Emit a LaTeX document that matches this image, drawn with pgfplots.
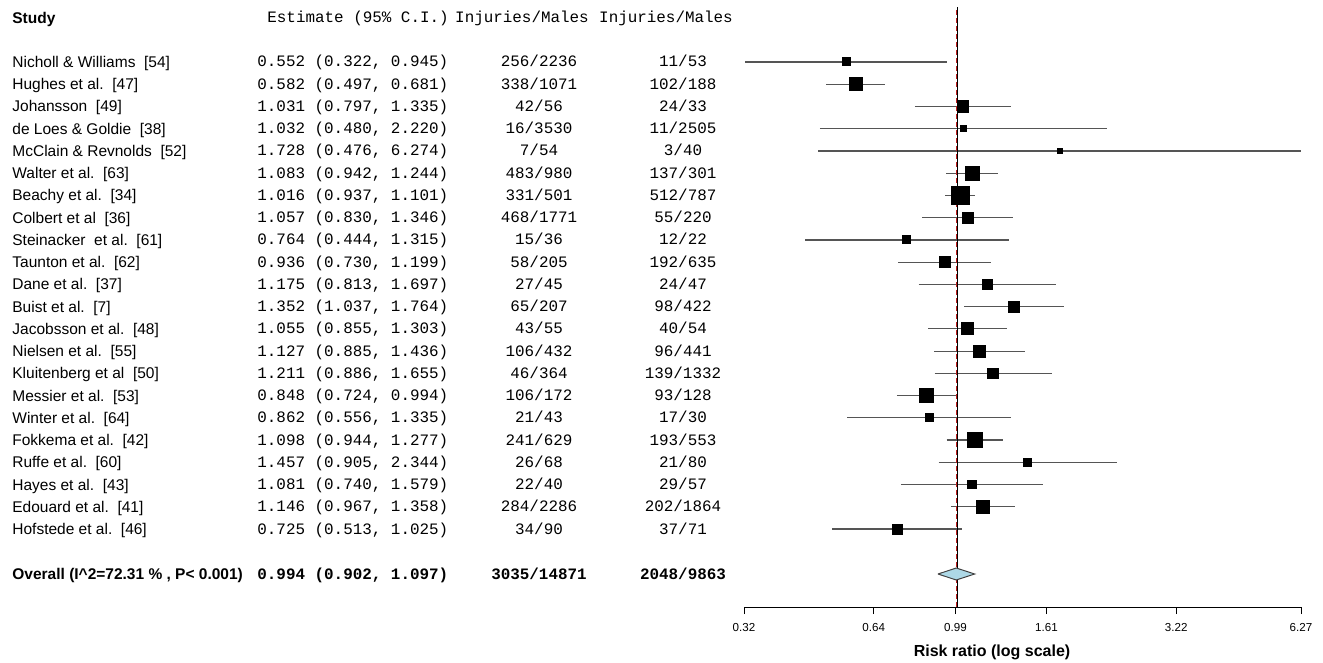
\documentclass[border=0pt]{standalone}
\usepackage{pgfplots}
\pgfplotsset{compat=1.18}
\usepackage{pgfplotstable}
\usepackage{fontspec}
\setmainfont{Liberation Sans}
\newfontfamily\mono{Liberation Mono}
\definecolor{diamondblue}{RGB}{173,216,230}
\definecolor{cigray}{RGB}{85,85,85}
\definecolor{refred}{RGB}{190,30,30}

% y = 607 - pixel row position
\pgfplotstableread{
y est h
545.00 0.552 2.00
522.76 0.582 3.25
500.52 1.031 2.82
478.28 1.032 1.50
456.04 1.728 1.32
433.80 1.083 3.50
411.56 1.016 4.50
389.32 1.057 2.67
367.08 0.764 2.00
344.84 0.936 2.82
322.60 1.175 2.32
300.36 1.352 2.82
278.12 1.055 3.00
255.88 1.127 3.00
233.64 1.211 2.67
211.40 0.848 3.50
189.16 0.862 2.00
166.92 1.098 3.67
144.68 1.457 2.00
122.44 1.081 2.17
100.20 1.146 3.17
77.96 0.725 2.50
}\studies

\pgfplotstableread{
lo hi y
0.322 0.945 545.00
0.497 0.681 522.76
0.797 1.335 500.52
0.480 2.220 478.28
0.476 6.274 456.04
0.942 1.244 433.80
0.937 1.101 411.56
0.830 1.346 389.32
0.444 1.315 367.08
0.730 1.199 344.84
0.813 1.697 322.60
1.037 1.764 300.36
0.855 1.303 278.12
0.885 1.436 255.88
0.886 1.655 233.64
0.724 0.994 211.40
0.556 1.335 189.16
0.944 1.277 166.92
0.905 2.344 144.68
0.740 1.579 122.44
0.967 1.358 100.20
0.513 1.025 77.96
}\cis

\newcommand{\namefont}{\fontsize{7.75}{9}\selectfont}
\newcommand{\monofont}{\mono\fontsize{7.95}{9}\selectfont}
\newcommand{\row}[5]{%
  \node[anchor=base west,inner sep=0,font=\namefont] at (12,{#1+5.5}) {#2};
  \node[anchor=base west,inner sep=0,font=\monofont] at (257,{#1+5}) {#3};
  \node[anchor=base,inner sep=0,font=\monofont] at (539,{#1+5}) {#4};
  \node[anchor=base,inner sep=0,font=\monofont] at (683,{#1+5}) {#5};
}

\begin{document}
\begin{tikzpicture}
\begin{scope}[x=0.5pt,y=-0.5pt]
\path (0,0) rectangle (1323,663);

% headers
\node[anchor=base west,inner sep=0,font=\namefont\bfseries] at (12,23.5) {Study};
\node[anchor=base west,inner sep=0,font=\monofont] at (267,23) {Estimate (95\% C.I.)};
\node[anchor=base,inner sep=0,font=\monofont] at (522,23) {Injuries/Males};
\node[anchor=base,inner sep=0,font=\monofont] at (666,23) {Injuries/Males};

\row{62.00}{Nicholl \& Williams~~[54]}{0.552 (0.322, 0.945)}{256/2236}{11/53}
\row{84.24}{Hughes et al.~~[47]}{0.582 (0.497, 0.681)}{338/1071}{102/188}
\row{106.48}{Johansson~~[49]}{1.031 (0.797, 1.335)}{42/56}{24/33}
\row{128.72}{de Loes \& Goldie~~[38]}{1.032 (0.480, 2.220)}{16/3530}{11/2505}
\row{150.96}{McClain \& Revnolds~~[52]}{1.728 (0.476, 6.274)}{7/54}{3/40}
\row{173.20}{Walter et al.~~[63]}{1.083 (0.942, 1.244)}{483/980}{137/301}
\row{195.44}{Beachy et al.~~[34]}{1.016 (0.937, 1.101)}{331/501}{512/787}
\row{217.68}{Colbert et al~~[36]}{1.057 (0.830, 1.346)}{468/1771}{55/220}
\row{239.92}{Steinacker~~et al.~~[61]}{0.764 (0.444, 1.315)}{15/36}{12/22}
\row{262.16}{Taunton et al.~~[62]}{0.936 (0.730, 1.199)}{58/205}{192/635}
\row{284.40}{Dane et al.~~[37]}{1.175 (0.813, 1.697)}{27/45}{24/47}
\row{306.64}{Buist et al.~~[7]}{1.352 (1.037, 1.764)}{65/207}{98/422}
\row{328.88}{Jacobsson et al.~~[48]}{1.055 (0.855, 1.303)}{43/55}{40/54}
\row{351.12}{Nielsen et al.~~[55]}{1.127 (0.885, 1.436)}{106/432}{96/441}
\row{373.36}{Kluitenberg et al~~[50]}{1.211 (0.886, 1.655)}{46/364}{139/1332}
\row{395.60}{Messier et al.~~[53]}{0.848 (0.724, 0.994)}{106/172}{93/128}
\row{417.84}{Winter et al.~~[64]}{0.862 (0.556, 1.335)}{21/43}{17/30}
\row{440.08}{Fokkema et al.~~[42]}{1.098 (0.944, 1.277)}{241/629}{193/553}
\row{462.32}{Ruffe et al.~~[60]}{1.457 (0.905, 2.344)}{26/68}{21/80}
\row{484.56}{Hayes et al.~~[43]}{1.081 (0.740, 1.579)}{22/40}{29/57}
\row{506.80}{Edouard et al.~~[41]}{1.146 (0.967, 1.358)}{284/2286}{202/1864}
\row{529.04}{Hofstede et al.~~[46]}{0.725 (0.513, 1.025)}{34/90}{37/71}

% overall
\node[anchor=base west,inner sep=0,font=\namefont\bfseries] at (12,579.5) {Overall (I\^{}2=72.31 \% , P< 0.001)};
\node[anchor=base west,inner sep=0,font=\monofont\bfseries] at (257,579) {0.994 (0.902, 1.097)};
\node[anchor=base,inner sep=0,font=\monofont\bfseries] at (539,579) {3035/14871};
\node[anchor=base,inner sep=0,font=\monofont\bfseries] at (683,579) {2048/9863};

\node[anchor=center,inner sep=0,font=\fontsize{8}{9}\selectfont\bfseries] at (992,652) {Risk ratio (log scale)};
\end{scope}

\begin{axis}[
  at={(372pt,-303.5pt)}, anchor=south west,
  scale only axis, width=278.5pt, height=303.5pt,
  xmode=log, xmin=0.32, xmax=6.27, ymin=0, ymax=607,
  axis x line*=bottom, axis y line=none,
  axis line style={-, line width=0.5pt, black},
  xtick={0.32,0.64,0.99,1.61,3.22,6.27},
  xticklabels={0.32,0.64,0.99,1.61,3.22,6.27},
  minor xtick={},
  tick align=outside, major tick length=3.5pt,
  x tick style={line width=0.5pt, black},
  xticklabel style={font=\fontsize{5.8}{7}\selectfont, inner sep=0pt, yshift=-4.5pt},
  clip=false,
]
\addplot[draw=none, no markers,
  error bars/.cd, x dir=both, x explicit, error mark=none,
  error bar style={draw=cigray, line width=0.6pt, solid}]
  table[x=lo, y=y, x error plus expr={\thisrow{hi}-\thisrow{lo}}, x error minus expr=0] {\cis};
\addplot[black, line width=0.5pt] coordinates {(1,0) (1,600)};
\addplot[refred, line width=0.7pt, dash pattern=on 2.5pt off 1.5pt] coordinates {(0.994,0) (0.994,600)};
\addplot[only marks, mark=square*, mark options={draw=black, fill=black, line width=0pt},
  visualization depends on={\thisrow{h} \as \perpointmarksize},
  scatter, scatter/use mapped color={draw=black, fill=black},
  scatter/@pre marker code/.append style={/tikz/mark size=\perpointmarksize},
] table[x=est,y=y] {\studies};
\addplot[fill=diamondblue, draw=black!75, line width=0.5pt] coordinates {(0.902,33) (0.994,39) (1.097,33) (0.994,27) (0.902,33)};
\end{axis}
\end{tikzpicture}
\end{document}
